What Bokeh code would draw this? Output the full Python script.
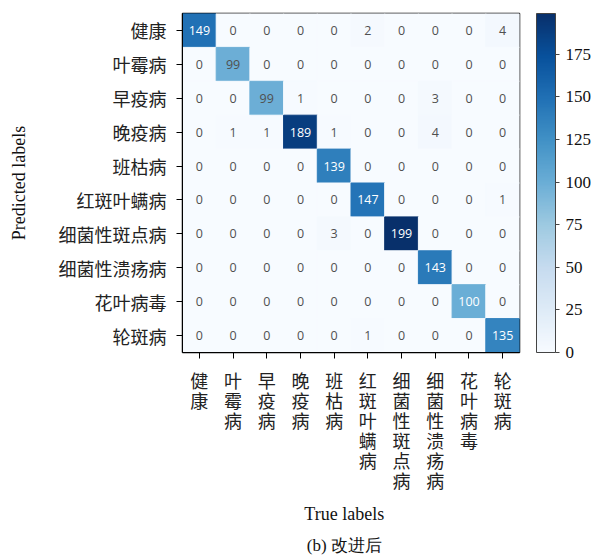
from bokeh.plotting import figure
from bokeh.layouts import column
from bokeh.models import LinearColorMapper, ColorBar, ColumnDataSource, FixedTicker, Range1d
from bokeh.palettes import Blues256
from bokeh.embed import file_html
from bokeh.resources import INLINE
from bokeh.core.properties import value

labels = ["健康", "叶霉病", "早疫病", "晚疫病", "班枯病", "红斑叶螨病",
          "细菌性斑点病", "细菌性溃疡病", "花叶病毒", "轮斑病"]

# rows = predicted label, columns = true label
row_healthy = [149, 0, 0, 0, 0, 2, 0, 0, 0, 4]
row_leaf_mold = [0, 99, 0, 0, 0, 0, 0, 0, 0, 0]
row_early_blight = [0, 0, 99, 1, 0, 0, 0, 3, 0, 0]
row_late_blight = [0, 1, 1, 189, 1, 0, 0, 4, 0, 0]
row_septoria = [0, 0, 0, 0, 139, 0, 0, 0, 0, 0]
row_spider_mite = [0, 0, 0, 0, 0, 147, 0, 0, 0, 1]
row_bact_spot = [0, 0, 0, 0, 3, 0, 199, 0, 0, 0]
row_bact_canker = [0, 0, 0, 0, 0, 0, 0, 143, 0, 0]
row_mosaic = [0, 0, 0, 0, 0, 0, 0, 0, 100, 0]
row_target_spot = [0, 0, 0, 0, 0, 1, 0, 0, 0, 135]
counts = [row_healthy, row_leaf_mold, row_early_blight, row_late_blight, row_septoria,
          row_spider_mite, row_bact_spot, row_bact_canker, row_mosaic, row_target_spot]

cbar_ticks = [0, 25, 50, 75, 100, 125, 150, 175]
x_title = "True labels"
y_title = "Predicted labels"
caption = "(b) 改进后"

palette = list(reversed(Blues256))
low, high = 0, 199
mapper = LinearColorMapper(palette=palette, low=low, high=high)

def color_of(v):
    idx = int(round((v - low) / (high - low) * (len(palette) - 1)))
    return palette[max(0, min(len(palette) - 1, idx))]

xs, ys, vals, fills, tcols, txt = [], [], [], [], [], []
for i, row in enumerate(counts):
    for j, v in enumerate(row):
        xs.append(labels[j])
        ys.append(labels[i])
        vals.append(v)
        fills.append(color_of(v))
        tcols.append("white" if v >= 100 else "#505050")
        txt.append(str(v))

src = ColumnDataSource(dict(x=xs, y=ys, v=vals, fill=fills, tc=tcols, t=txt))

W = 601
H1 = 365
H2 = 557 - H1
LEFT, RIGHT = 182, 82

# ---- main heatmap ----
p = figure(width=W, height=H1, x_range=labels, y_range=list(reversed(labels)),
           output_backend="svg", toolbar_location=None,
           min_border_left=LEFT, min_border_top=13, min_border_right=RIGHT, min_border_bottom=13)
p.background_fill_color = "white"
p.border_fill_color = "white"
p.outline_line_color = "black"
p.outline_line_width = 1.5
p.grid.grid_line_color = None

p.rect(x="x", y="y", width=1, height=1, source=src, fill_color="fill", line_color="fill")
p.text(x="x", y="y", text="t", source=src, text_color="tc", text_align="center",
       text_baseline="middle", text_font_size="12.5px", text_font=value("Open Sans"))

for ax in (p.xaxis[0], p.yaxis[0]):
    ax.axis_line_color = "black"
    ax.major_tick_line_color = "black"
    ax.major_tick_out = 6
    ax.major_tick_in = 0
    ax.minor_tick_line_color = None
    ax.major_label_text_font = "Noto Sans CJK SC"
    ax.major_label_text_font_size = "18px"
    ax.major_label_text_color = "#222222"
    ax.axis_label_text_font = "Liberation Serif"
    ax.axis_label_text_font_size = "18px"
    ax.axis_label_text_font_style = "normal"
    ax.axis_label_text_color = "#111111"

p.yaxis.axis_label = y_title
p.yaxis.major_label_standoff = 10
p.yaxis.axis_label_standoff = 27

# x tick labels drawn in the strip below as vertical stacks of upright characters
p.xaxis.major_label_text_font_size = "0px"
p.xaxis.major_label_text_alpha = 0
p.xaxis.major_label_standoff = 0

cb = ColorBar(color_mapper=mapper, width=19, padding=0, margin=0, location=(17, 0),
              ticker=FixedTicker(ticks=cbar_ticks),
              major_label_text_font="Liberation Serif", major_label_text_font_size="17px",
              major_label_text_color="#111111",
              bar_line_color="#444444", bar_line_width=1,
              major_tick_line_color="#444444", major_tick_out=4, major_tick_in=0,
              minor_tick_line_color=None, label_standoff=6)
p.add_layout(cb, "right")

# ---- bottom strip: vertical x tick labels, x title, caption ----
p2 = figure(width=W, height=H2, x_range=p.x_range, y_range=Range1d(-H2, 0),
            output_backend="svg", toolbar_location=None,
            x_axis_location=None, y_axis_location=None,
            min_border_left=LEFT, min_border_right=RIGHT, min_border_top=0, min_border_bottom=0)
p2.background_fill_color = "white"
p2.border_fill_color = "white"
p2.outline_line_color = None
p2.grid.grid_line_color = None

char_step = 20
cx, cy, ct = [], [], []
for lab in labels:
    for k, ch in enumerate(lab):
        cx.append(lab)
        cy.append(-(1 + char_step * k))
        ct.append(ch)
p2.text(x=cx, y=cy, text=ct, text_align="center", text_baseline="top",
        text_font=value("Noto Sans CJK SC"), text_font_size="18px", text_color="#222222")

p2.text(x=[4.8], y=[-148], text=[x_title], text_align="center", text_baseline="middle",
        text_font=value("Liberation Serif"), text_font_size="18px", text_color="#111111")
p2.text(x=[4.8], y=[-180], text=[caption], text_align="center", text_baseline="middle",
        text_font=value("Liberation Serif"), text_font_size="17px", text_color="#111111")

layout = column(p, p2, spacing=0)
open("out.html", "w").write(file_html(layout, INLINE))
